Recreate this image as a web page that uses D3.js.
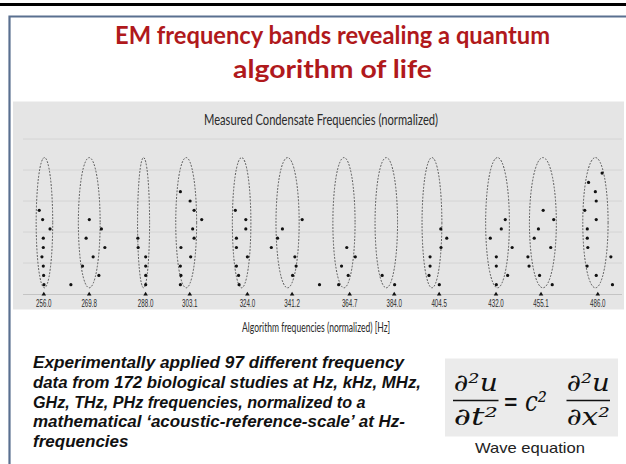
<!DOCTYPE html>
<html>
<head>
<meta charset="utf-8">
<script src="https://cdn.jsdelivr.net/npm/d3@7/dist/d3.min.js"></script>
<style>
html,body{margin:0;padding:0;background:#fff;}
svg{display:block;}
</style>
</head>
<body>
<svg id="c" width="626" height="464"></svg>
<script>
// ---------- data ----------
const titleLines = ["EM frequency bands revealing a quantum", "algorithm of life"];
const chartTitle = "Measured Condensate Frequencies (normalized)";
const xAxisTitle = "Algorithm frequencies (normalized) [Hz]";
const tickFreqs = [256.0, 269.8, 288.0, 303.1, 324.0, 341.2, 364.7, 384.0, 404.5, 432.0, 455.1, 486.0];
const tickLabels = ["256.0","269.8","288.0","303.1","324.0","341.2","364.7","384.0","404.5","432.0","455.1","486.0"];
// band (ellipse) extents in Hz
const bandLo = [253.9, 266.6, 285.5, 298.4, 318.6, 335.1, 357.9, 375.8, 396.8, 427.1, 449.3, 477.9];
const bandHi = [258.8, 273.4, 289.5, 305.7, 325.5, 344.2, 367.2, 385.7, 406.0, 439.0, 463.5, 492.1];
const bandBottom = 2;   // normalized value
const bandTop = 44;
// measured points: frequency (Hz) and normalized value
const dotFreqs = [
  254.8,255.8,258.0,256.0,256.0,255.6,256.0,256.1,256.2, 264.3,
  270.0,273.8,269.0,274.9,271.2,267.9,273.0,
  285.6,285.7,288.2,288.2,288.2,288.2,
  300.0,303.4,304.8,307.5,304.3,304.8,300.2,303.6,300.0,300.2,300.0,
  319.7,323.6,323.6,320.1,320.1,324.2,320.1,320.9,321.1,
  345.4,337.6,335.7,333.3,342.5,343.0,341.6,352.4,
  363.7,367.3,361.5,364.3,360.3,
  378.9,384.4,
  405.5,408.3,405.6,400.5,400.5,400.0,404.8,
  436.9,434.9,429.4,440.4,432.4,432.4,438.1,432.4,
  456.5,462.1,454.0,451.8,460.5,448.5,449.1,454.6,461.3,
  488.7,481.1,484.9,485.4,479.0,485.4,480.4,480.4,480.7,493.7,480.3,485.4,494.6
];
const dotValues = [
  27,24,21,18,15,12,9,6,3, 3,
  24,21,18,15,12,9,6,
  18,15,12,9,6,3,
  33,30,27,24,21,18,15,12,9,6,3,
  27,24,21,18,15,12,9,6,3,
  24,21,18,15,12,9,6,3,
  15,12,9,6,3,
  6,3,
  21,18,15,12,9,6,3,
  24,21,18,15,12,9,6,3,
  27,24,21,18,15,12,9,6,3,
  39,36,33,30,27,24,21,18,15,12,9,6,3
];
const gridValues = [10, 20, 30, 40, 50];
const bodyLines = [
  "Experimentally applied 97 different frequency",
  "data from 172 biological studies at Hz, kHz, MHz,",
  "GHz, THz, PHz frequencies, normalized to a",
  "mathematical \u2018acoustic-reference-scale\u2019 at Hz-",
  "frequencies"
];
const eqCaption = "Wave equation";

// ---------- drawing ----------
const svg = d3.select("#c");
function fit(sel, w){ return sel.attr("textLength", w).attr("lengthAdjust", "spacingAndGlyphs"); }

// slide decorations
svg.append("rect").attr("x",0).attr("y",3).attr("width",626).attr("height",3).attr("fill","#000");
svg.append("path").attr("d","M9.5,464V16.5H626").attr("fill","none").attr("stroke","#5a7090").attr("stroke-width",2.2);

// title
const titleBase = [44, 78];
const titleW = [435, 199];
titleLines.forEach((t,i)=>{
  fit(svg.append("text").attr("x",332.5).attr("y",titleBase[i]).attr("text-anchor","middle")
    .attr("font-family","Lato, 'Open Sans', sans-serif").attr("font-weight",700).attr("font-size",25)
    .attr("fill","#b0191c").text(t), titleW[i]);
});

// chart background
svg.append("rect").attr("x",13).attr("y",101.5).attr("width",611).attr("height",208).attr("fill","#e5e5e5");
fit(svg.append("text").attr("x",321).attr("y",124.5).attr("text-anchor","middle")
  .attr("font-family","'Liberation Sans Narrow', Lato, sans-serif").attr("font-size",15).attr("fill","#2a2a2a").text(chartTitle), 234);

const x = d3.scaleLog().domain([256, 486]).range([43.3, 597.3]);
const y = d3.scaleLinear().domain([0, 50]).range([294, 139]);

// gridlines
svg.append("g").selectAll("line").data(gridValues).join("line")
  .attr("x1",23).attr("x2",622).attr("y1",d=>y(d)).attr("y2",d=>y(d))
  .attr("stroke","#d4d4d4").attr("stroke-width",1);
// axis
const axis = d3.axisBottom(x).tickValues(tickFreqs).tickFormat((d,i)=>tickLabels[i]).tickSize(0).tickPadding(0);
const ag = svg.append("g").attr("transform",`translate(0,${y(0)})`).call(axis);
ag.select(".domain").attr("d","M23,0.5H622").attr("stroke","#c4c4c4");
ag.selectAll(".tick text").remove();
ag.selectAll(".tick").append("path").attr("d",d3.symbol(d3.symbolTriangle, 9)).attr("transform","translate(0,0.3)").attr("fill","#111");
ag.selectAll(".tick").append("text").attr("y",13.3).attr("text-anchor","middle")
  .attr("font-family","'Liberation Sans Narrow', 'Liberation Sans', sans-serif").attr("font-size",10.5).attr("fill","#2a2a2a")
  .attr("textLength",15.5).attr("lengthAdjust","spacingAndGlyphs")
  .text((d,i)=>tickLabels[i]);

// ellipses
svg.append("g").selectAll("ellipse").data(tickFreqs).join("ellipse")
  .attr("cx",(d,i)=>(x(bandLo[i])+x(bandHi[i]))/2)
  .attr("rx",(d,i)=>(x(bandHi[i])-x(bandLo[i]))/2)
  .attr("cy",(y(bandBottom)+y(bandTop))/2)
  .attr("ry",(y(bandBottom)-y(bandTop))/2)
  .attr("fill","none").attr("stroke","#444").attr("stroke-width",0.9).attr("stroke-dasharray","1.8,1.5");

// dots
svg.append("g").selectAll("circle").data(dotFreqs).join("circle")
  .attr("cx",d=>x(d)).attr("cy",(d,i)=>y(dotValues[i])).attr("r",1.6).attr("fill","#111");

// x axis title
fit(svg.append("text").attr("x",316).attr("y",331.5).attr("text-anchor","middle")
  .attr("font-family","'Liberation Sans Narrow', Lato, sans-serif").attr("font-size",12.5).attr("fill","#2a2a2a").text(xAxisTitle), 148);

// body text
const bodyW = [371, 388, 332.5, 372, 95.5];
bodyLines.forEach((t,i)=>{
  fit(svg.append("text").attr("x",33).attr("y",368.3 + i*19.7)
    .attr("font-family","'Liberation Sans', Arial, sans-serif").attr("font-weight",700).attr("font-style","italic")
    .attr("font-size",16).attr("fill","#111").text(t), bodyW[i]);
});

// equation box
svg.append("rect").attr("x",445).attr("y",358.5).attr("width",173).attr("height",78).attr("fill","#ebebeb");
const eq = svg.append("g").attr("font-family","'DejaVu Serif', 'Liberation Serif', serif").attr("font-style","italic").attr("fill","#111");
function eqText(t, cx, base, w, size){
  fit(eq.append("text").attr("x",cx).attr("y",base).attr("text-anchor","middle").attr("font-size",size).text(t), w);
}
eqText("\u2202\u00b2u", 475.8, 390.5, 44, 24);
eqText("\u2202t\u00b2", 475.8, 425, 44, 24);
eqText("\u2202\u00b2u", 588.3, 390.5, 43, 24);
eqText("\u2202x\u00b2", 588.3, 425, 43, 24);
eqText("c\u00b2", 536, 410.5, 22, 27);
fit(eq.append("text").attr("x",510.8).attr("y",411).attr("text-anchor","middle").attr("font-size",28).attr("font-style","normal").text("="), 15);
eq.append("line").attr("x1",453).attr("x2",498.5).attr("y1",400.5).attr("y2",400.5).attr("stroke","#111").attr("stroke-width",1.3);
eq.append("line").attr("x1",566.5).attr("x2",610).attr("y1",400.5).attr("y2",400.5).attr("stroke","#111").attr("stroke-width",1.3);
fit(svg.append("text").attr("x",530).attr("y",453).attr("text-anchor","middle")
  .attr("font-family","'Liberation Sans', Arial, sans-serif").attr("font-size",14.5).attr("fill","#222").text(eqCaption), 110);
</script>
</body>
</html>
